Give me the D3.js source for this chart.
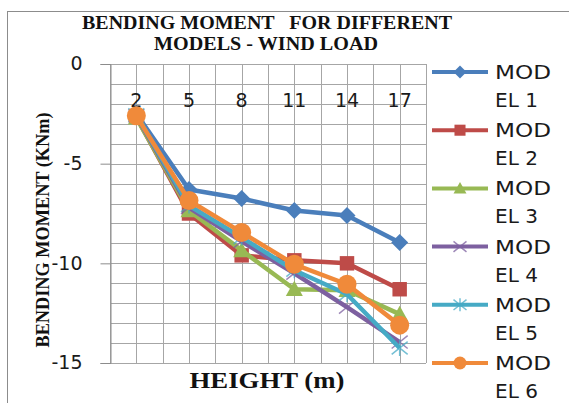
<!DOCTYPE html>
<html>
<head>
<meta charset="utf-8">
<script src="https://cdn.jsdelivr.net/npm/d3@7"></script>
<style>
  html, body { margin: 0; padding: 0; background: #fff; }
  svg { display: block; }
  text { white-space: pre; }
</style>
</head>
<body>
<svg id="chart" width="569" height="403"></svg>
<script>
// Heights along the building (m) and bending moment per model (kNm)
const heights = ["2", "5", "8", "11", "14", "17"];
const seriesNames = ["MODEL 1", "MODEL 2", "MODEL 3", "MODEL 4", "MODEL 5", "MODEL 6"];
const model1 = [-2.5, -6.3, -6.75, -7.35, -7.6, -8.95];
const model2 = [-2.65, -7.5, -9.6, -9.85, -10.0, -11.3];
const model3 = [-2.7, -7.35, -9.35, -11.3, -11.35, -12.55];
const model4 = [-2.6, -7.2, -8.9, -10.5, -12.2, -13.95];
const model5 = [-2.55, -7.1, -8.7, -10.35, -11.55, -14.25];
const model6 = [-2.6, -6.85, -8.45, -10.05, -11.05, -13.1];
const yTicks = [0, -5, -10, -15];

const colors = ["#4A7EBB", "#BE4B48", "#98B954", "#7D60A0", "#46AAC5", "#F08A3A"];
const markers = ["diamond", "square", "triangle", "x", "star", "circle"];
const allSeries = [model1, model2, model3, model4, model5, model6];

const svg = d3.select("#chart");

// chart frame
svg.append("rect")
  .attr("x", 7.5).attr("y", 11.5)
  .attr("width", 600).attr("height", 500)
  .attr("fill", "none").attr("stroke", "#8c8c8c").attr("stroke-width", 1);

const plot = { left: 110, right: 426, top: 64, bottom: 363 };

const x = d3.scaleBand().domain(heights).range([plot.left, plot.right]);
const y = d3.scaleLinear().domain([-15, 0]).range([plot.bottom, plot.top]);

// grid: horizontal every 1 kNm, vertical every half band
const grid = svg.append("g").attr("stroke", "#a6a6a6").attr("stroke-width", 1);
d3.range(-15, 1, 1).forEach(v => {
  grid.append("line")
    .attr("x1", plot.left).attr("x2", plot.right)
    .attr("y1", Math.round(y(v)) + 0.5).attr("y2", Math.round(y(v)) + 0.5);
});
const half = x.bandwidth() / 2;
d3.range(0, heights.length * 2 + 1).forEach(k => {
  const xx = Math.round(plot.left + k * half) + 0.5;
  grid.append("line")
    .attr("x1", xx).attr("x2", xx)
    .attr("y1", plot.top).attr("y2", plot.bottom);
});

// value axis
const yAxis = d3.axisLeft(y).tickValues(yTicks).tickSize(10).tickPadding(18)
  .tickFormat(d => String(d));
const yg = svg.append("g")
  .attr("transform", `translate(${plot.left + 0.5},0)`)
  .call(yAxis);
yg.select(".domain").attr("stroke", "#8c8c8c");
yg.selectAll(".tick line").attr("stroke", "#8c8c8c");
yg.selectAll(".tick text")
  .attr("font-family", "DejaVu Sans, sans-serif")
  .attr("font-size", 19)
  .attr("fill", "#1a1a1a")
  .attr("dy", "0.3em");

// category labels sit inside the plot, under the zero line
const xAxis = d3.axisBottom(x).tickSize(0).tickPadding(0);
const xg = svg.append("g")
  .attr("transform", `translate(0,${plot.top})`)
  .call(xAxis);
xg.select(".domain").remove();
xg.selectAll(".tick text")
  .attr("font-family", "DejaVu Sans, sans-serif")
  .attr("font-size", 19)
  .attr("fill", "#1a1a1a")
  .attr("y", 43)
  .attr("dy", 0);

// marker shapes
function drawMarker(g, type, color, s) {
  if (type === "diamond") {
    g.append("path").attr("d", `M0,${-s}L${s},0L0,${s}L${-s},0Z`).attr("fill", color);
  } else if (type === "square") {
    g.append("rect").attr("x", -s * 0.85).attr("y", -s * 0.85)
      .attr("width", s * 1.7).attr("height", s * 1.7).attr("fill", color);
  } else if (type === "triangle") {
    g.append("path").attr("d", `M0,${-s}L${s},${s * 0.8}L${-s},${s * 0.8}Z`).attr("fill", color);
  } else if (type === "x") {
    g.append("path").attr("d", `M${-s},${-s * 0.8}L${s},${s * 0.8}M${-s},${s * 0.8}L${s},${-s * 0.8}`)
      .attr("stroke", color).attr("stroke-width", 1.5).attr("fill", "none").attr("opacity", 0.75);
  } else if (type === "star") {
    g.append("path").attr("d", `M${-s},${-s * 0.8}L${s},${s * 0.8}M${-s},${s * 0.8}L${s},${-s * 0.8}M0,${-s}L0,${s}`)
      .attr("stroke", color).attr("stroke-width", 1.5).attr("fill", "none").attr("opacity", 0.75);
  } else if (type === "circle") {
    g.append("circle").attr("r", s).attr("fill", color);
  }
}

const markerSize = [8.5, 8.5, 8.5, 8, 8, 9.5];
const legendMarkerSize = [6.5, 6.5, 6.5, 6.5, 6.5, 6.5];
const line = d3.line().x((d, i) => x(heights[i]) + half).y(d => y(d));

allSeries.forEach((vals, si) => {
  const g = svg.append("g");
  g.append("path")
    .datum(vals)
    .attr("d", line)
    .attr("fill", "none")
    .attr("stroke", colors[si])
    .attr("stroke-width", 4.5)
    .attr("stroke-linejoin", "round");
  vals.forEach((v, i) => {
    const mg = g.append("g").attr("transform", `translate(${x(heights[i]) + half},${y(v)})`);
    drawMarker(mg, markers[si], colors[si], markerSize[si]);
  });
});

// legend
const legend = svg.append("g");
seriesNames.forEach((name, si) => {
  const ly = 72 + si * 58.2;
  const lg = legend.append("g").attr("transform", `translate(0,${ly})`);
  lg.append("line")
    .attr("x1", 432).attr("x2", 488).attr("y1", 0).attr("y2", 0)
    .attr("stroke", colors[si]).attr("stroke-width", 4);
  const mg = lg.append("g").attr("transform", "translate(460,0)");
  drawMarker(mg, markers[si], colors[si], legendMarkerSize[si]);
  const first = name.slice(0, 3), rest = name.slice(3);
  lg.append("text")
    .attr("x", 495).attr("y", 7)
    .attr("font-family", "DejaVu Sans, sans-serif").attr("font-size", 20)
    .attr("fill", "#1a1a1a")
    .attr("textLength", 56).attr("lengthAdjust", "spacingAndGlyphs")
    .text(first);
  lg.append("text")
    .attr("x", 495).attr("y", 35)
    .attr("font-family", "DejaVu Sans, sans-serif").attr("font-size", 20)
    .attr("fill", "#1a1a1a")
    .text(rest);
});

// titles
const serif = "Liberation Serif, Times New Roman, serif";
svg.append("text")
  .attr("x", 267).attr("y", 29).attr("text-anchor", "middle")
  .attr("font-family", serif).attr("font-weight", "bold").attr("font-size", 19)
  .attr("fill", "#111")
  .attr("textLength", 370).attr("lengthAdjust", "spacingAndGlyphs")
  .text("BENDING MOMENT   FOR DIFFERENT");
svg.append("text")
  .attr("x", 266).attr("y", 50).attr("text-anchor", "middle")
  .attr("font-family", serif).attr("font-weight", "bold").attr("font-size", 19)
  .attr("fill", "#111")
  .attr("textLength", 224).attr("lengthAdjust", "spacingAndGlyphs")
  .text("MODELS - WIND LOAD");

svg.append("text")
  .attr("transform", "translate(49,230) rotate(-90)")
  .attr("text-anchor", "middle")
  .attr("font-family", serif).attr("font-weight", "bold").attr("font-size", 18)
  .attr("fill", "#111")
  .attr("textLength", 235).attr("lengthAdjust", "spacingAndGlyphs")
  .text("BENDING MOMENT (KNm)");

svg.append("text")
  .attr("x", 267).attr("y", 388).attr("text-anchor", "middle")
  .attr("font-family", serif).attr("font-weight", "bold").attr("font-size", 23)
  .attr("fill", "#111")
  .attr("textLength", 155).attr("lengthAdjust", "spacingAndGlyphs")
  .text("HEIGHT (m)");
</script>
</body>
</html>
